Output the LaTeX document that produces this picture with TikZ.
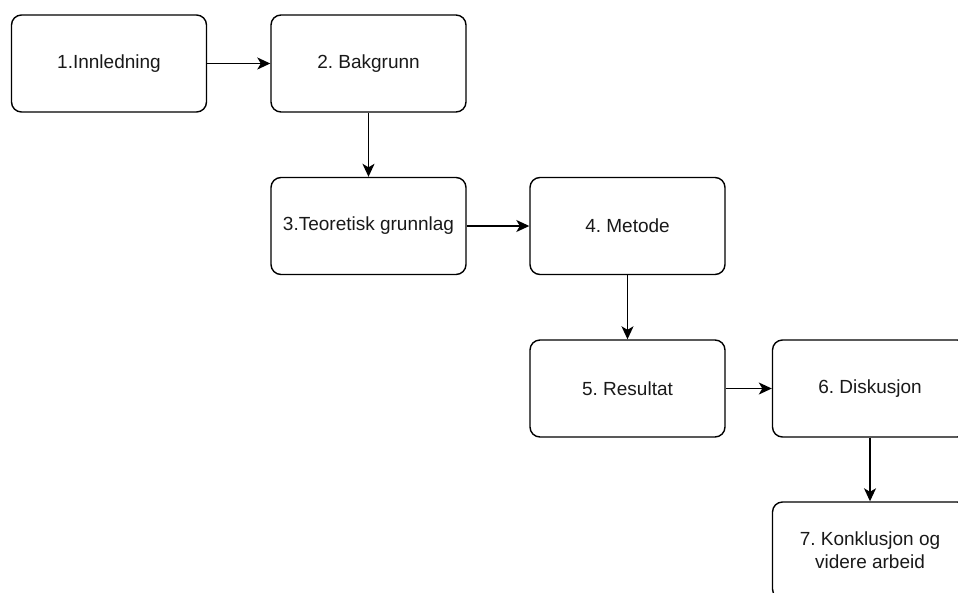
\documentclass[tikz,border=0pt]{standalone}
\usepackage{fontspec}
\setmainfont{Liberation Sans}
\usetikzlibrary{arrows.meta}
\frenchspacing
\begin{document}
\begin{tikzpicture}[x=1pt,y=-1pt,
  stepbox/.style={draw=black, line width=1.4pt, rounded corners=10pt,
    minimum width=195pt, minimum height=97pt, align=center,
    font=\fontsize{19}{23}\selectfont, text=black!90, inner sep=0pt},
  flow/.style={draw=black, line width=1.4pt,
    -{Stealth[length=13pt,width=12pt,inset=3.5pt]}}]
  \useasboundingbox (0,0) rectangle (958,592);
  \node[stepbox] (n1) at (109,63.5)   {1.Innledning};
  \node[stepbox] (n2) at (368.5,63.5) {2. Bakgrunn};
  \node[stepbox] (n3) at (368.5,226)  {3.Teoretisk grunnlag};
  \node[stepbox] (n4) at (627.5,226)  {4. Metode};
  \node[stepbox] (n5) at (627.5,388.5){5. Resultat};
  \node[stepbox] (n6) at (870,388.5)  {6. Diskusjon};
  \node[stepbox] (n7) at (870,550.5)  {7. Konklusjon og\\videre arbeid};
  \draw[flow] (n1) -- (n2);
  \draw[flow] (n2) -- (n3);
  \draw[flow] (n3) -- (n4);
  \draw[flow] (n4) -- (n5);
  \draw[flow] (n5) -- (n6);
  \draw[flow] (n6) -- (n7);
\end{tikzpicture}
\end{document}
